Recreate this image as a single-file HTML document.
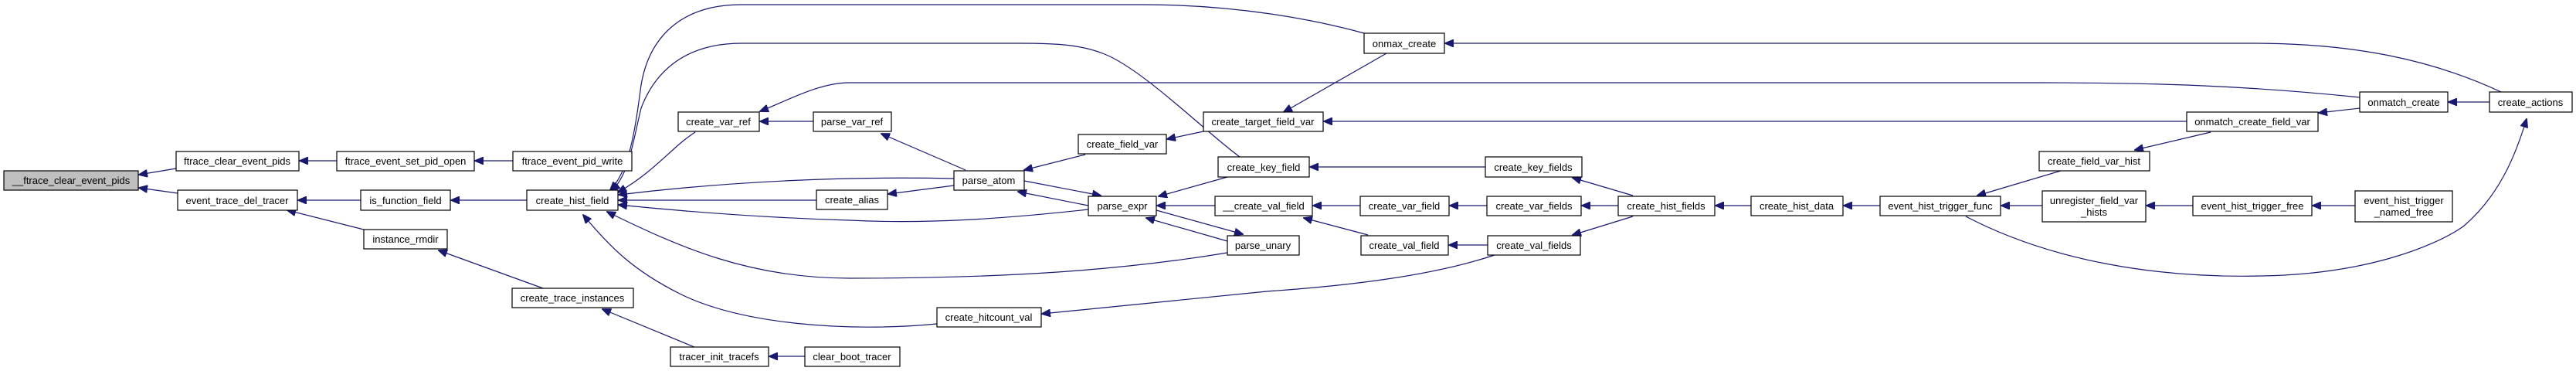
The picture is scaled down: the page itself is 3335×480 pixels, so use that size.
<!DOCTYPE html>
<html><head><meta charset="utf-8"><style>
html,body{margin:0;padding:0;background:#fff;}
svg{display:block;}
text{font-family:"Liberation Sans",Arial,sans-serif;font-size:13px;fill:#000;text-anchor:middle;}
.b{fill:#fff;stroke:#000;stroke-width:1.2;}
.e{fill:none;stroke:#191970;stroke-width:1.2;}
</style></head><body>
<svg width="3335" height="480" viewBox="0 0 3335 480" xmlns="http://www.w3.org/2000/svg">
<defs>
<marker id="a" markerWidth="12" markerHeight="10" refX="11" refY="5" orient="auto" markerUnits="userSpaceOnUse">
<path d="M0,0 L12,5 L0,10 z" fill="#191970" stroke="#191970"/>
</marker>
</defs>
<g marker-end="url(#a)">
<path class="e" d="M228,218 L180,226"/>
<path class="e" d="M230,250 L180,243"/>
<path class="e" d="M436,208 L388,208"/>
<path class="e" d="M664,208 L615,208"/>
<path class="e" d="M467,259 L386,259"/>
<path class="e" d="M471,297 L372,272"/>
<path class="e" d="M682,259 L584,259"/>
<path class="e" d="M703,373 L568,324"/>
<path class="e" d="M899,449 L780,400"/>
<path class="e" d="M1042,461 L996,461"/>
<path class="e" d="M1053,157 L984,157"/>
<!-- into create_hist_field -->
<path class="e" d="M1766,43 C1700,25 1600,6 1480,6 L960,6 C880,6 840,50 830,110 C822,170 815,220 790,246"/>
<path class="e" d="M1605,203 C1560,170 1480,90 1430,70 C1400,58 1370,56 1320,56 L960,56 C880,56 845,100 830,140 C820,180 815,225 792,247"/>
<path class="e" d="M900,171 C870,190 850,220 800,249"/>
<path class="e" d="M1235,231 C1100,228 950,234 801,252"/>
<path class="e" d="M1057,259 L801,259"/>
<path class="e" d="M1409,271 C1300,283 1200,290 1100,285 C1000,282 900,275 801,265"/>
<path class="e" d="M1589,327 C1450,350 1300,360 1100,360 C970,360 880,320 786,274"/>
<path class="e" d="M1213,419 C1100,430 960,420 880,380 C820,350 790,320 755,278"/>
<!-- others -->
<path class="e" d="M3055,126 C2900,110 2780,107 2640,107 L1100,107 C1060,107 1020,130 984,144"/>
<path class="e" d="M2831,157 L1714,157"/>
<path class="e" d="M1795,69 L1662,145"/>
<path class="e" d="M1558,170 L1511,180"/>
<path class="e" d="M1405,200 L1326,220"/>
<path class="e" d="M1250,220 L1141,173"/>
<path class="e" d="M1235,240 L1150,251"/>
<path class="e" d="M1326,234 L1425,253"/>
<path class="e" d="M1409,266 L1318,248"/>
<path class="e" d="M1497,272 L1609,303"/>
<path class="e" d="M1589,312 L1484,282"/>
<path class="e" d="M1589,229 L1500,254"/>
<path class="e" d="M1573,266 L1498,266"/>
<path class="e" d="M1923,216 L1696,216"/>
<path class="e" d="M1761,266 L1700,266"/>
<path class="e" d="M1771,304 L1688,282"/>
<path class="e" d="M1925,266 L1877,266"/>
<path class="e" d="M1926,317 L1876,317"/>
<path class="e" d="M2114,253 L2036,230"/>
<path class="e" d="M2095,266 L2048,266"/>
<path class="e" d="M2114,280 L2036,304"/>
<path class="e" d="M1935,330 C1850,358 1740,370 1640,377 L1349,406"/>
<path class="e" d="M2267,266 L2387,266" style="display:none"/>
<path class="e" d="M2267,266 L2387,266" marker-end="none" style="display:none"/>
<path class="e" d="M2267,266 L2221,266"/>
<path class="e" d="M2434,266 L2387,266"/>
<path class="e" d="M2668,221 L2560,253"/>
<path class="e" d="M2644,266 L2591,266"/>
<path class="e" d="M2839,266 L2779,266"/>
<path class="e" d="M3049,266 L2994,266"/>
<path class="e" d="M2862,171 L2764,194"/>
<path class="e" d="M3055,140 L3002,146"/>
<path class="e" d="M3223,132 L3170,132"/>
<path class="e" d="M3238,119 C3150,78 3050,56 2916,56 L1871,56"/>
<path class="e" d="M2545,280 C2660,340 2800,360 2927,357 C3060,355 3150,320 3189,293 C3240,250 3260,190 3271,154"/>
</g>
<!-- nodes -->
<rect x="5" y="221" width="174" height="25" fill="#bfbfbf" stroke="#000" stroke-width="1.2"/>
<text x="92" y="238">__ftrace_clear_event_pids</text>
<rect class="b" x="228" y="196" width="159" height="25"/><text x="307" y="213">ftrace_clear_event_pids</text>
<rect class="b" x="436" y="196" width="178" height="25"/><text x="525" y="213">ftrace_event_set_pid_open</text>
<rect class="b" x="664" y="196" width="154" height="25"/><text x="741" y="213">ftrace_event_pid_write</text>
<rect class="b" x="230" y="246" width="155" height="26"/><text x="307" y="264">event_trace_del_tracer</text>
<rect class="b" x="467" y="246" width="116" height="26"/><text x="525" y="264">is_function_field</text>
<rect class="b" x="682" y="246" width="118" height="26"/><text x="741" y="264">create_hist_field</text>
<rect class="b" x="471" y="297" width="108" height="25"/><text x="525" y="314">instance_rmdir</text>
<rect class="b" x="663" y="373" width="157" height="25"/><text x="741" y="390">create_trace_instances</text>
<rect class="b" x="878" y="145" width="105" height="25"/><text x="930" y="162">create_var_ref</text>
<rect class="b" x="1053" y="145" width="101" height="25"/><text x="1103" y="162">parse_var_ref</text>
<rect class="b" x="1396" y="174" width="114" height="25"/><text x="1453" y="191">create_field_var</text>
<rect class="b" x="1235" y="221" width="91" height="25"/><text x="1280" y="238">parse_atom</text>
<rect class="b" x="1057" y="246" width="92" height="25"/><text x="1103" y="263">create_alias</text>
<rect class="b" x="1409" y="254" width="88" height="25"/><text x="1453" y="271">parse_expr</text>
<rect class="b" x="1558" y="145" width="155" height="25"/><text x="1635" y="162">create_target_field_var</text>
<rect class="b" x="1577" y="203" width="118" height="26"/><text x="1636" y="221">create_key_field</text>
<rect class="b" x="1573" y="254" width="126" height="25"/><text x="1636" y="271">__create_val_field</text>
<rect class="b" x="1589" y="305" width="93" height="25"/><text x="1635" y="322">parse_unary</text>
<rect class="b" x="1213" y="398" width="135" height="25"/><text x="1280" y="415">create_hitcount_val</text>
<rect class="b" x="868" y="449" width="127" height="25"/><text x="931" y="466">tracer_init_tracefs</text>
<rect class="b" x="1042" y="449" width="123" height="25"/><text x="1103" y="466">clear_boot_tracer</text>
<rect class="b" x="1766" y="43" width="104" height="26"/><text x="1818" y="61">onmax_create</text>
<rect class="b" x="1923" y="203" width="125" height="26"/><text x="1985" y="221">create_key_fields</text>
<rect class="b" x="1761" y="254" width="115" height="25"/><text x="1818" y="271">create_var_field</text>
<rect class="b" x="1925" y="254" width="122" height="25"/><text x="1986" y="271">create_var_fields</text>
<rect class="b" x="2095" y="254" width="125" height="25"/><text x="2157" y="271">create_hist_fields</text>
<rect class="b" x="2267" y="254" width="119" height="25"/><text x="2326" y="271">create_hist_data</text>
<rect class="b" x="2434" y="254" width="156" height="25"/><text x="2512" y="271">event_hist_trigger_func</text>
<rect class="b" x="1762" y="305" width="113" height="25"/><text x="1818" y="322">create_val_field</text>
<rect class="b" x="1926" y="305" width="120" height="25"/><text x="1986" y="322">create_val_fields</text>
<rect class="b" x="3055" y="119" width="114" height="26"/><text x="3112" y="137">onmatch_create</text>
<rect class="b" x="3223" y="119" width="107" height="26"/><text x="3276" y="137">create_actions</text>
<rect class="b" x="2831" y="145" width="170" height="25"/><text x="2916" y="162">onmatch_create_field_var</text>
<rect class="b" x="2640" y="196" width="143" height="25"/><text x="2711" y="213">create_field_var_hist</text>
<rect class="b" x="2644" y="247" width="134" height="40"/><text x="2711" y="264">unregister_field_var</text><text x="2711" y="279">_hists</text>
<rect class="b" x="2839" y="254" width="154" height="25"/><text x="2916" y="271">event_hist_trigger_free</text>
<rect class="b" x="3049" y="247" width="126" height="40"/><text x="3112" y="264">event_hist_trigger</text><text x="3112" y="279">_named_free</text>
</svg>
</body></html>
